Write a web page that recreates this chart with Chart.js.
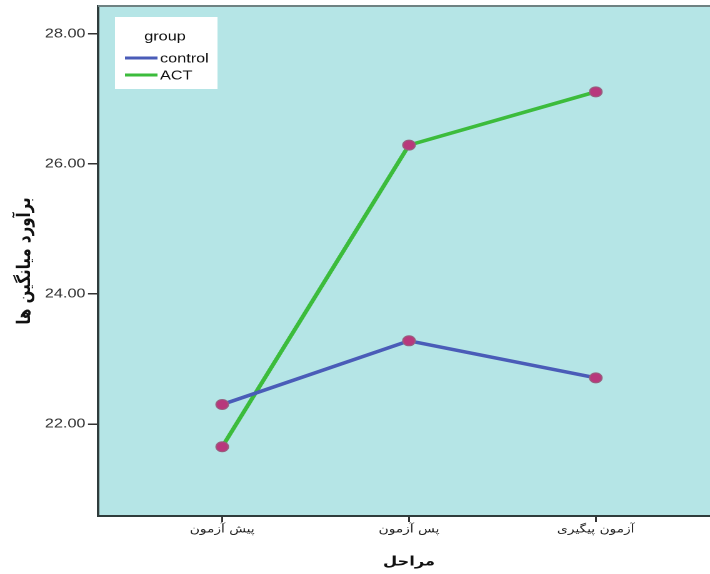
<!DOCTYPE html>
<html>
<head>
<meta charset="utf-8">
<script src="https://cdn.jsdelivr.net/npm/chart.js@4.4.1/dist/chart.umd.min.js"></script>
<style>
    html, body { margin: 0; padding: 0; background: #fff; overflow: hidden; }
    /* the reference is stretched horizontally, so the chart is drawn narrow and widened */
    #wrap { width: 582px; height: 574px; transform: scaleX(1.25); transform-origin: 0 0; }
</style>
</head>
<body>
<div id="wrap"><canvas id="lineChart"></canvas></div>
<script>
// Dữ liệu
const categories = ['پیش آزمون', 'پس آزمون', 'آزمون پیگیری'];
const groupNames = ['control', 'ACT'];
const controlValues = [22.30, 23.28, 22.71];
const actValues = [21.65, 26.29, 27.11];
const yTicks = [22, 24, 26, 28];

const lineColors = ['#4a5cb8', '#3cbc3c'];

function toPoints(values) {
    return values.map((v, i) => ({ x: i, y: v }));
}

// Nền vùng vẽ, khung và chú thích
const plotBox = {
    id: 'plotBox',
    beforeDraw(chart) {
        const { ctx, chartArea: a } = chart;
        ctx.save();
        ctx.fillStyle = '#b5e5e6';
        ctx.fillRect(a.left, a.top, a.right - a.left, a.bottom - a.top);
        ctx.restore();
    },
    afterDraw(chart) {
        const { ctx, chartArea: a } = chart;
        ctx.save();
        ctx.strokeStyle = '#6e8282';
        ctx.lineWidth = 2;
        ctx.beginPath();
        ctx.moveTo(a.left, a.top);
        ctx.lineTo(a.right + 2, a.top);
        ctx.stroke();

        // chú thích
        const bx = 92, by = 17, bw = 82, bh = 72;
        ctx.fillStyle = '#ffffff';
        ctx.fillRect(bx, by, bw, bh);
        ctx.fillStyle = '#111';
        ctx.font = '13px "Liberation Sans", Arial, sans-serif';
        ctx.textBaseline = 'middle';
        ctx.textAlign = 'center';
        ctx.fillText('group', 132, 37);
        ctx.textAlign = 'left';
        chart.data.datasets.forEach((ds, i) => {
            const y = 58 + i * 17;
            ctx.strokeStyle = ds.borderColor;
            ctx.lineWidth = 3;
            ctx.beginPath();
            ctx.moveTo(100, y);
            ctx.lineTo(126, y);
            ctx.stroke();
            ctx.fillText(ds.label, 128, y + 1);
        });
        ctx.restore();
    }
};

const datasets = [controlValues, actValues].map((vals, i) => ({
    label: groupNames[i],
    data: toPoints(vals),
    borderColor: lineColors[i],
    backgroundColor: lineColors[i],
    borderWidth: 3.5,
    tension: 0,
    pointRadius: 5,
    pointBackgroundColor: '#b8387c',
    pointBorderColor: '#98607f',
    pointBorderWidth: 1
}));

new Chart(document.getElementById('lineChart').getContext('2d'), {
    type: 'line',
    data: { datasets: datasets },
    options: {
        responsive: true,
        maintainAspectRatio: false,
        animation: false,
        devicePixelRatio: 2,
        layout: { padding: { top: 6, right: 0, left: 0, bottom: 0 } },
        plugins: {
            legend: { display: false },
            tooltip: { enabled: false }
        },
        scales: {
            x: {
                type: 'linear',
                min: -0.665,
                max: 2.665,
                afterBuildTicks: (s) => { s.ticks = categories.map((c, i) => ({ value: i })); },
                afterFit: (s) => { s.height = 58; s.paddingLeft = 0; s.paddingRight = 0; },
                ticks: {
                    callback: (v) => categories[v],
                    font: { family: '"DejaVu Sans", sans-serif', size: 11 },
                    color: '#222',
                    padding: 1,
                    maxRotation: 0
                },
                grid: { drawOnChartArea: false, drawTicks: true, tickLength: 6, color: '#333', lineWidth: 1.5 },
                border: { display: true, color: '#2f3c3c', width: 2 },
                title: {
                    display: true,
                    text: 'مراحل',
                    font: { family: '"DejaVu Sans", sans-serif', size: 13, weight: 'bold' },
                    color: '#111',
                    padding: { top: 0, bottom: 4 }
                }
            },
            y: {
                min: 20.585,
                max: 28.43,
                afterBuildTicks: (s) => { s.ticks = yTicks.map(v => ({ value: v })); },
                afterFit: (s) => { s.width = 78.4; s.paddingTop = 0; s.paddingBottom = 0; },
                ticks: {
                    callback: (v) => v.toFixed(2),
                    font: { family: '"Liberation Sans", Arial, sans-serif', size: 13 },
                    color: '#333',
                    padding: 2
                },
                grid: { drawOnChartArea: false, drawTicks: true, tickLength: 8, color: '#333', lineWidth: 1.5 },
                border: { display: true, color: '#2f3c3c', width: 2 },
                title: {
                    display: true,
                    text: 'برآورد میانگین ها',
                    font: { family: '"DejaVu Sans", sans-serif', size: 15, weight: 'bold' },
                    color: '#111',
                    padding: { top: 11, bottom: 0 }
                }
            }
        }
    },
    plugins: [plotBox]
});
</script>
</body>
</html>
